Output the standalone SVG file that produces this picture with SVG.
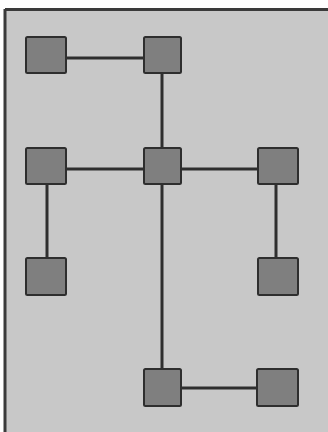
<svg xmlns="http://www.w3.org/2000/svg" width="328" height="432" viewBox="0 0 328 432">
<style>
.node{fill:#7f7f7f;stroke:#2e2e2e;stroke-width:2}
.edge{stroke:#2e2e2e;stroke-width:3;fill:none}
.frame{stroke:#3a3a3a;stroke-width:3}
</style>
<rect x="0" y="0" width="328" height="432" fill="#ffffff"/>
<rect x="5" y="10" width="323" height="422" fill="#c8c8c8"/>
<line class="frame" x1="5" y1="9.5" x2="328" y2="9.5"/>
<line class="frame" x1="5" y1="9" x2="5" y2="432"/>
<g id="connectors">
<line class="edge" x1="67" y1="58" x2="143" y2="58"/>
<line class="edge" x1="162" y1="74" x2="162" y2="147"/>
<line class="edge" x1="67" y1="169" x2="143" y2="169"/>
<line class="edge" x1="182" y1="169" x2="257" y2="169"/>
<line class="edge" x1="47" y1="185" x2="47" y2="257"/>
<line class="edge" x1="276" y1="185" x2="276" y2="257"/>
<line class="edge" x1="162" y1="185" x2="162" y2="368"/>
<line class="edge" x1="181" y1="388" x2="257" y2="388"/>
</g>
<g id="n1"><rect class="node" x="26" y="37" width="40" height="36" rx="1.5"/></g>
<g id="n2"><rect class="node" x="144" y="37" width="37" height="36" rx="1.5"/></g>
<g id="n3"><rect class="node" x="26" y="148" width="40" height="36" rx="1.5"/></g>
<g id="n4"><rect class="node" x="144" y="148" width="37" height="36" rx="1.5"/></g>
<g id="n5"><rect class="node" x="258" y="148" width="40" height="36" rx="1.5"/></g>
<g id="n6"><rect class="node" x="26" y="258" width="40" height="37" rx="1.5"/></g>
<g id="n7"><rect class="node" x="258" y="258" width="40" height="37" rx="1.5"/></g>
<g id="n8"><rect class="node" x="144" y="369" width="37" height="37" rx="1.5"/></g>
<g id="n9"><rect class="node" x="257" y="369" width="41" height="37" rx="1.5"/></g>
</svg>
